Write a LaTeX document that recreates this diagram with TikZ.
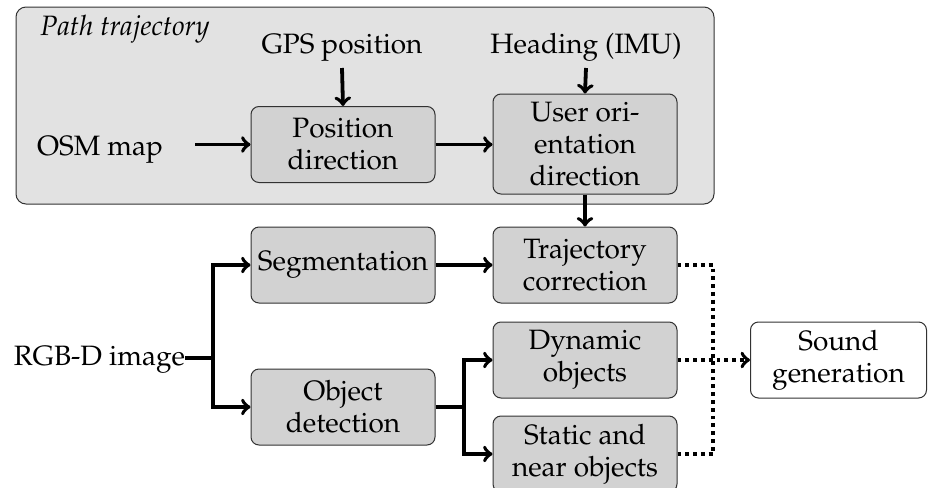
\documentclass[tikz,border=0pt]{standalone}
\usepackage[T1]{fontenc}
\usepackage{mathpazo}
\usetikzlibrary{arrows}
\definecolor{outerfill}{RGB}{226,226,226}
\definecolor{innerfill}{RGB}{210,210,210}
\definecolor{edgecol}{RGB}{50,50,50}
\tikzset{
  px/.style={x=0.5pt,y=-0.5pt},
  proc/.style={draw=edgecol, line width=0.5pt, fill=innerfill, rounded corners=4pt,
    minimum width=92pt, minimum height=38pt, align=center, inner sep=1pt},
  procwhite/.style={proc, fill=white},
  outerbox/.style={draw=edgecol, line width=0.5pt, fill=outerfill, rounded corners=5pt,
    minimum width=349pt, minimum height=98.5pt, inner sep=0pt},
  plain/.style={inner sep=0pt, align=center},
  conn/.style={line width=1.9pt, ->},
  lin/.style={line width=1.9pt},
  dotconn/.style={line width=1.9pt, dotted},
}
\begin{document}
\begin{tikzpicture}[px, font=\fontsize{14}{16}\selectfont]
\useasboundingbox (0,0) rectangle (928,488);
% outer box
\node[outerbox] (pathbox) at (365,105.5) {};
\node[plain, anchor=base west, font=\fontsize{14}{16}\selectfont\itshape] (ptitle) at (40,35) {Path trajectory};
% inputs
\node[plain, anchor=base] (gps) at (342,53) {GPS position};
\node[plain, anchor=base] (head) at (586,53) {Heading (IMU)};
\node[plain, anchor=base] (osm) at (100,155) {OSM map};
\node[plain, anchor=base] (rgb) at (99.5,365) {RGB-D image};
% boxes
\node[proc] (pos) at (343,144.5) {Position\\direction};
\node[proc, minimum height=50pt] (user) at (585,144) {User ori-\\entation\\direction};
\node[proc] (seg) at (343,265) {Segmentation};
\node[proc] (traj) at (585,265) {Trajectory\\correction};
\node[proc] (obj) at (343,407) {Object\\detection};
\node[proc] (dyn) at (585,360) {Dynamic\\objects};
\node[proc] (stat) at (585,454) {Static and\\near objects};
\node[procwhite, minimum width=88pt] (sound) at (838.5,360) {Sound\\generation};
% coordinates
\coordinate (rsplit) at (213,358);
\coordinate (osplit) at (464,407);
\coordinate (djoin) at (713,360);
% connectors
\draw[conn] (gps.south |- 0,68) -- (pos.north);
\draw[conn] (head.south |- 0,68) -- (user.north);
\draw[conn] ([xshift=16pt]osm.east |- pos.west) -- (pos.west);
\draw[conn] (pos.east) -- (pos.east -| user.west);
\draw[conn] (user.south) -- (traj.north);
\draw[lin] (rgb.east |- rsplit) -- (rsplit);
\draw[conn] (rsplit) |- (seg.west);
\draw[conn] (rsplit) |- (obj.west);
\draw[conn] (seg.east) -- (traj.west);
\draw[lin] (obj.east) -- (osplit);
\draw[conn] (osplit) |- (dyn.west);
\draw[conn] (osplit) |- (stat.west);
\draw[dotconn] (traj.east) -| (djoin);
\draw[dotconn] (stat.east) -| (djoin);
\draw[dotconn, ->] (dyn.east) -- (sound.west);
\end{tikzpicture}
\end{document}
